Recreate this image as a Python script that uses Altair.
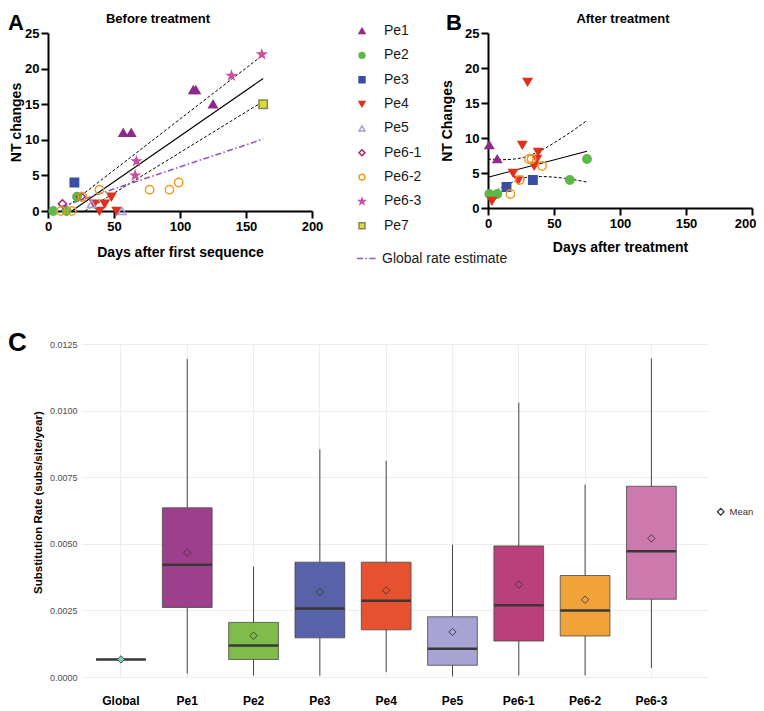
import altair as alt
import pandas as pd

FONT = "Liberation Sans"

# ---------------- Panel A / B series ----------------
patients = ["Pe1", "Pe2", "Pe3", "Pe4", "Pe5", "Pe6-1", "Pe6-2", "Pe6-3", "Pe7"]
STAR = ("M0,-1L0.235,-0.324L0.951,-0.309L0.38,0.124L0.588,0.809L0,0.4"
        "L-0.588,0.809L-0.38,0.124L-0.951,-0.309L-0.235,-0.324Z")
marker_shapes = ["triangle-up", "circle", "square", "triangle-down", "triangle-up",
                 "diamond", "circle", STAR, "square"]
marker_fill = ["#8e2a8b", "#5cb947", "#3a4fa0", "#e0301e", "transparent",
               "transparent", "transparent", "#c8509e", "#e0dc24"]
marker_stroke = ["#8e2a8b", "#5cb947", "#3a4fa0", "#e0301e", "#a59fd6",
                 "#a5236e", "#f39a1f", "#c8509e", "#85806e"]

a_patient = ["Pe1"] * 5 + ["Pe2"] * 3 + ["Pe3"] + ["Pe4"] * 5 + ["Pe5"] * 2 + \
            ["Pe6-1"] * 2 + ["Pe6-2"] * 7 + ["Pe6-3"] * 4 + ["Pe7"]
a_days = [57, 63, 110, 112, 125, 4, 14, 22, 20, 35, 39, 43, 48, 52, 33, 56, 11, 25,
          10, 18, 26, 39, 77, 92, 99, 66, 67, 139, 162, 163]
a_nt = [11, 11, 17, 17, 15, 0, 0, 2, 4, 1, 0, 1, 2, 0, 1, 0, 1, 2,
        0, 0, 2, 3, 3, 3, 4, 5, 7, 19, 22, 15]

b_patient = ["Pe1"] * 2 + ["Pe2"] * 4 + ["Pe3"] * 2 + ["Pe4"] * 8 + ["Pe6-2"] * 5
b_days = [1, 7, 1, 7, 62, 75, 14, 34, 3, 19, 23, 26, 30, 35, 37, 38, 17, 24, 31, 33, 41]
b_nt = [9, 7, 2, 2, 4, 7, 3, 4, 1, 5, 4, 9, 18, 6, 7, 8, 2, 4, 7, 7, 6]

# regression lines (A)
a_fit_days = [18, 163]
a_fit_nt = [0, 18.6]
a_upper_days = [10, 162]
a_upper_nt = [0, 21.8]
a_lower_days = [28, 163]
a_lower_nt = [0, 15.4]
global_days = [10, 163]
global_nt = [0.62, 10.1]

# regression lines (B)
b_fit_days = [0, 75]
b_fit_nt = [4.4, 8.1]
b_band_days = [0, 10, 20, 30, 40, 50, 60, 75]
b_upper_nt = [7.0, 6.9, 7.0, 7.4, 8.2, 9.3, 10.5, 12.5]
b_lower_nt = [1.8, 2.9, 3.8, 4.4, 4.5, 4.4, 4.2, 3.7]

x_ticks = [0, 50, 100, 150, 200]
y_ticks = [0, 5, 10, 15, 20, 25]

# ---------------- Panel C series ----------------
cats = ["Global", "Pe1", "Pe2", "Pe3", "Pe4", "Pe5", "Pe6-1", "Pe6-2", "Pe6-3"]
c_colors = ["#85cbbf", "#9e3f8e", "#80bc4a", "#5762a9", "#e6512f", "#a7a3d3",
            "#b9407a", "#f1a23a", "#cd79ae"]
c_lo = [0.00066, 0.00013, 0.00005, 0.00005, 0.00018, 0.00002, 0.00006, 0.00006, 0.00034]
c_q1 = [0.00066, 0.00261, 0.00066, 0.00147, 0.00177, 0.00044, 0.00135, 0.00154, 0.00292]
c_med = [0.00066, 0.00421, 0.00118, 0.00257, 0.00286, 0.00106, 0.00269, 0.00250, 0.00472]
c_q3 = [0.00066, 0.00635, 0.00205, 0.00431, 0.00431, 0.00226, 0.00492, 0.00381, 0.00716]
c_hi = [0.00066, 0.01194, 0.00414, 0.00855, 0.00812, 0.00497, 0.01030, 0.00722, 0.01196]
c_mean = [0.00066, 0.00467, 0.00155, 0.00319, 0.00325, 0.00169, 0.00347, 0.00290, 0.00520]
c_ticks = [0, 0.00125, 0.0025, 0.00375, 0.005, 0.00625, 0.0075, 0.00875, 0.01, 0.01125, 0.0125]

PURPLE = "#8a5bbd"

# ---------------- helpers ----------------
gp_axis = dict(domainColor="black", domainWidth=2, tickColor="black", tickWidth=2,
               tickSize=7, labelFont=FONT, labelFontWeight="bold", labelFontSize=13,
               labelColor="black", titleFont=FONT, titleFontWeight="bold",
               titleFontSize=14, titleColor="black", grid=False, labelPadding=2)


def make_xy(x_title, y_title, height, title_x, title_pad, flush_last=False):
    extra = {}
    if flush_last:
        extra = dict(
            labelAlign={"condition": {"test": "datum.value == 200", "value": "right"},
                        "value": "center"},
            labelOffset={"condition": {"test": "datum.value == 200", "value": 4},
                         "value": 0})
    x = alt.X("Days:Q", scale=alt.Scale(domain=[0, 200], nice=False, zero=False),
              axis=alt.Axis(values=x_ticks, title=x_title, titlePadding=title_pad,
                            labelFlush=False, **extra, **gp_axis))
    y = alt.Y("NT:Q", scale=alt.Scale(domain=[0, 25], nice=False, zero=False),
              axis=alt.Axis(values=y_ticks, title=y_title, titleX=title_x,
                            titleY=height / 2, titleAngle=270, **gp_axis))
    return x, y


def marker_enc(legend):
    return dict(
        shape=alt.Shape("Patient:N", scale=alt.Scale(domain=patients, range=marker_shapes),
                        legend=legend),
        fill=alt.Fill("Patient:N", scale=alt.Scale(domain=patients, range=marker_fill),
                      legend=legend),
        stroke=alt.Stroke("Patient:N", scale=alt.Scale(domain=patients, range=marker_stroke),
                          legend=legend),
    )


def label_text(txt, dx, dy, size, align, baseline):
    return alt.Chart(pd.DataFrame({"t": [txt]})).mark_text(
        font=FONT, fontSize=size, fontWeight="bold", align=align, baseline=baseline,
        color="black").encode(text="t:N", x=alt.value(dx), y=alt.value(dy))


# ---------------- Panel A ----------------
A_W, A_H = 264, 178
xA, yA = make_xy("Days after first sequence", "NT changes", A_H, -25, 12)

dfA = pd.DataFrame({"Patient": a_patient, "Days": a_days, "NT": a_nt})
dfA_fit = pd.DataFrame({"Days": a_fit_days, "NT": a_fit_nt})
dfA_band = pd.DataFrame({
    "Days": a_upper_days + a_lower_days,
    "NT": a_upper_nt + a_lower_nt,
    "band": ["upper"] * len(a_upper_days) + ["lower"] * len(a_lower_days)})
dfG = pd.DataFrame({"Days": global_days, "NT": global_nt,
                    "Label": ["Global rate estimate"] * len(global_days)})

legA = alt.Legend(title=None, orient="none", legendX=307, legendY=-9, symbolSize=35,
                  symbolStrokeWidth=1.5, symbolOpacity=1, labelFont=FONT, labelFontSize=14,
                  labelColor="#1a1a1a", labelOffset=15, rowPadding=10.35, padding=0)
legG = alt.Legend(title=None, orient="none", legendX=308, legendY=214, symbolType="stroke",
                  symbolSize=441, symbolStrokeColor=PURPLE, symbolStrokeWidth=1.6,
                  labelFont=FONT, labelFontSize=14, labelColor="#1a1a1a", labelOffset=3,
                  padding=0)

bandA = alt.Chart(dfA_band).mark_line(color="black", strokeWidth=1, strokeDash=[3, 2]).encode(
    x=xA, y=yA, detail="band:N")
fitA = alt.Chart(dfA_fit).mark_line(color="black", strokeWidth=1.1).encode(x=xA, y=yA)
globA = alt.Chart(dfG).mark_line(color=PURPLE, strokeWidth=1.6).encode(
    x=xA, y=yA,
    strokeDash=alt.StrokeDash("Label:N", scale=alt.Scale(domain=["Global rate estimate"],
                                                         range=[[6, 2.5, 1.5, 2.5]]),
                              legend=legG))
ptsA = alt.Chart(dfA).mark_point(size=70, strokeWidth=1.5, opacity=1).encode(
    x=xA, y=yA, **marker_enc(legA))

A = alt.layer(bandA, fitA, globA, ptsA,
              label_text("A", -40, -20, 22, "left", "top"),
              label_text("Before treatment", A_W / 2 - 22, -10, 13, "center", "alphabetic")
              ).properties(width=A_W, height=A_H)

# ---------------- Panel B ----------------
B_W, B_H = 264, 175
xB, yB = make_xy("Days after treatment", "NT Changes", B_H, -34, 10, flush_last=True)

dfB = pd.DataFrame({"Patient": b_patient, "Days": b_days, "NT": b_nt})
dfB_fit = pd.DataFrame({"Days": b_fit_days, "NT": b_fit_nt})
dfB_band = pd.DataFrame({
    "Days": b_band_days + b_band_days,
    "NT": b_upper_nt + b_lower_nt,
    "band": ["upper"] * len(b_band_days) + ["lower"] * len(b_band_days)})

bandB = alt.Chart(dfB_band).mark_line(color="black", strokeWidth=1, strokeDash=[3, 2],
                                      interpolate="monotone").encode(
    x=xB, y=yB, detail="band:N")
fitB = alt.Chart(dfB_fit).mark_line(color="black", strokeWidth=1.1).encode(x=xB, y=yB)
ptsB = alt.Chart(dfB).mark_point(size=70, strokeWidth=1.5, opacity=1).encode(
    x=xB, y=yB, **marker_enc(None))

B = alt.layer(bandB, fitB, ptsB,
              label_text("B", -42, -20, 22, "left", "top"),
              label_text("After treatment", B_W / 2 + 3, -10, 13, "center", "alphabetic")
              ).properties(width=B_W, height=B_H)

# ---------------- Panel C ----------------
C_W, C_H = 627, 333
dfC = pd.DataFrame({"cat": cats, "lo": c_lo, "q1": c_q1, "med": c_med, "q3": c_q3,
                    "hi": c_hi, "mean": c_mean, "stat": ["Mean"] * len(cats)})

major_test = "round(datum.value*100000) % 250 == 0"
xC = alt.X("cat:N", sort=cats,
           scale=alt.Scale(domain=cats, paddingInner=0.25, paddingOuter=0.353,
                           align=0.322, round=False),
           axis=alt.Axis(title=None, labelAngle=0, domain=False, ticks=False, tickSize=0,
                         grid=True, gridColor="#ebebeb", gridWidth=0.9, bandPosition=0.5,
                         labelFont=FONT, labelFontWeight="bold", labelFontSize=12,
                         labelColor="black", labelPadding=18))
yscaleC = alt.Scale(domain=[0, 0.0125], nice=False, zero=False)
yC = alt.Y("lo:Q", scale=yscaleC,
           axis=alt.Axis(values=c_ticks, format=".4f",
                         labelExpr=f"{major_test} ? datum.label : ''",
                         grid=True, gridColor="#ebebeb",
                         gridWidth={"condition": {"test": major_test, "value": 0.9},
                                    "value": 0.5},
                         domain=False, ticks=False, tickSize=0, labelPadding=4,
                         labelFont=FONT, labelFontSize=9, labelColor="#4d4d4d",
                         title="Substitution Rate (subs/site/year)", titleFont=FONT,
                         titleFontSize=11.5, titleFontWeight="bold", titleColor="black",
                         titleX=-38, titleY=158, titleAngle=270))

colorC = alt.Color("cat:N", scale=alt.Scale(domain=cats, range=c_colors), legend=None)
legC = alt.Legend(title=None, orient="none", legendX=668, legendY=163, symbolSize=45,
                  symbolFillColor="white", symbolStrokeColor="#333333",
                  symbolStrokeWidth=1.2, labelFont=FONT, labelFontSize=9.5,
                  labelColor="#333333", labelOffset=4, padding=0)

whisk = alt.Chart(dfC).mark_rule(color="#454545", strokeWidth=1).encode(
    x=xC, y=yC, y2="hi:Q")
boxes = alt.Chart(dfC).mark_bar(stroke="#474747", strokeWidth=0.8, opacity=1).encode(
    x=xC, y=alt.Y("q1:Q", scale=yscaleC), y2="q3:Q", color=colorC)
medians = alt.Chart(dfC).mark_tick(color="#383838", thickness=2.5, size=49.7,
                                   opacity=1).encode(
    x=xC, y=alt.Y("med:Q", scale=yscaleC))
means = alt.Chart(dfC).mark_point(filled=True, size=55, stroke="#3a3a3a", strokeWidth=0.9,
                                  opacity=1).encode(
    x=xC, y=alt.Y("mean:Q", scale=yscaleC), color=colorC,
    shape=alt.Shape("stat:N", scale=alt.Scale(domain=["Mean"], range=["diamond"]),
                    legend=legC))

C = alt.layer(whisk, boxes, medians, means,
              label_text("C", -73, -14, 26, "left", "top")).properties(
    width=C_W, height=C_H)

spacer = alt.Chart(pd.DataFrame({"v": [0]})).mark_point(opacity=0).encode(
    x=alt.X("v:Q", axis=None), y=alt.Y("v:Q", axis=None)).properties(width=33, height=10)

row1 = alt.hconcat(A, B, spacing=176, bounds="flush").resolve_scale(
    shape="independent", fill="independent", stroke="independent",
    strokeDash="independent")
row2 = alt.hconcat(spacer, C, spacing=0, bounds="flush")

chart = alt.vconcat(row1, row2, spacing=311, bounds="flush").resolve_scale(
    shape="independent", fill="independent", stroke="independent",
    strokeDash="independent", color="independent").properties(
    padding={"top": 4, "left": 0, "right": 0, "bottom": 0}).configure_view(stroke=None)

chart.save("out.html", embed_options={"renderer": "svg", "actions": False})
